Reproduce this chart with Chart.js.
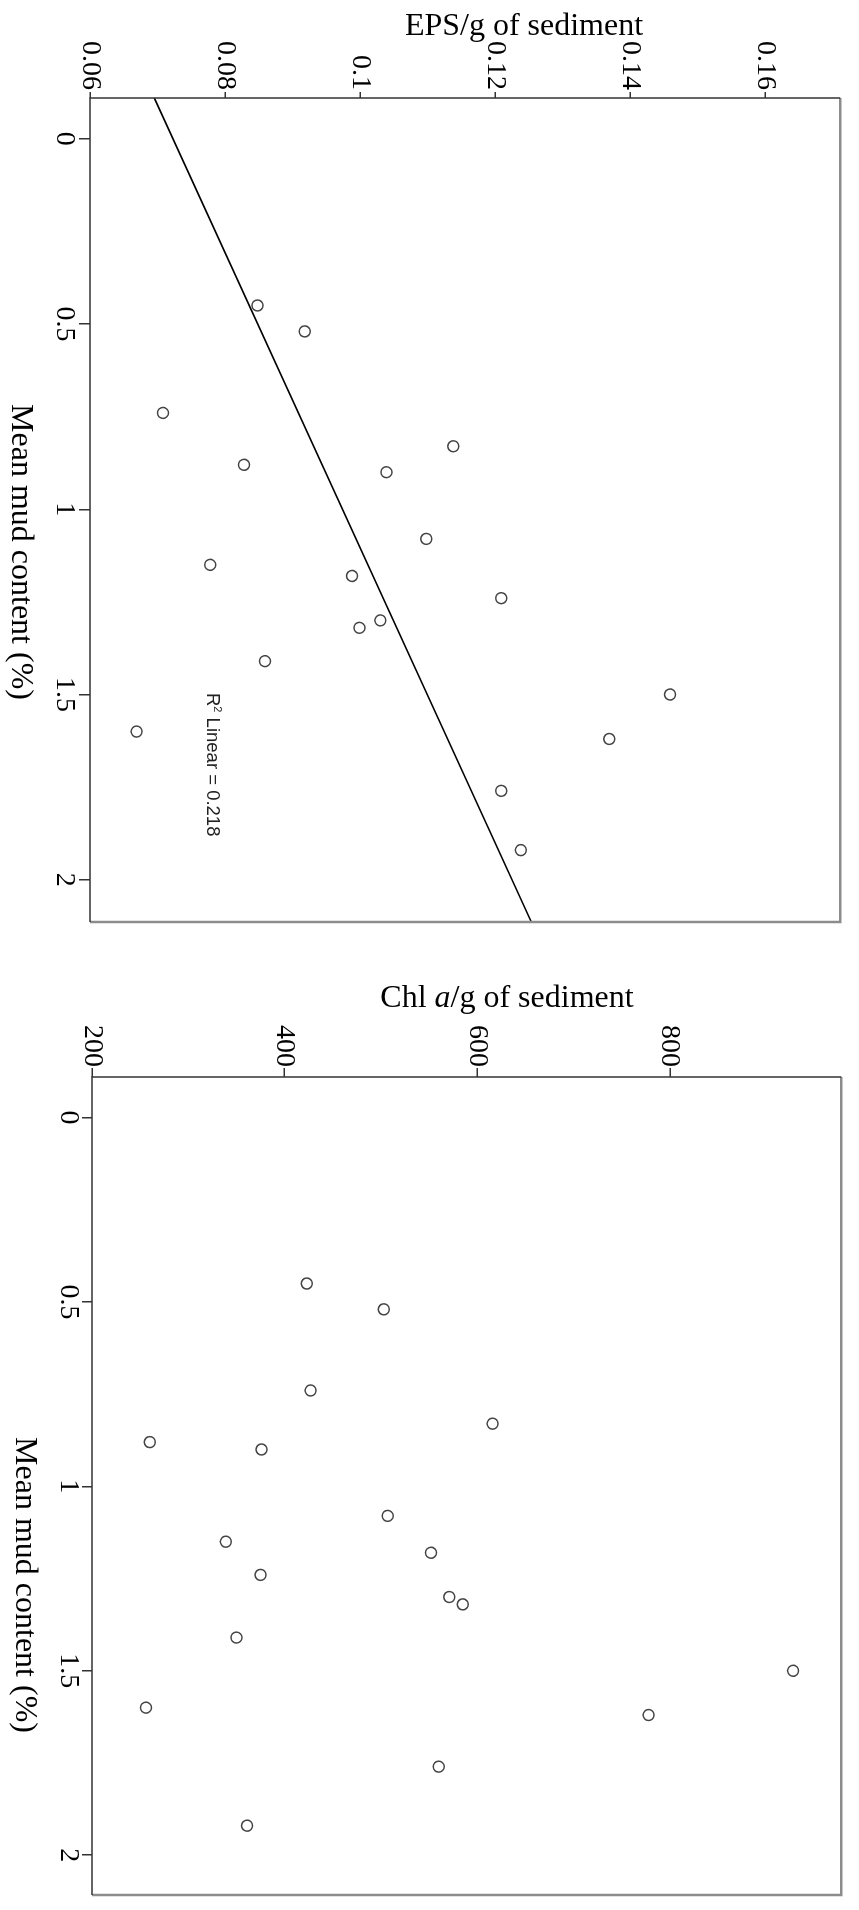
<!DOCTYPE html>
<html lang="en">
<head>
<meta charset="UTF-8">
<title>Mean mud content vs EPS and Chl a</title>
<script src="https://cdn.jsdelivr.net/npm/chart.js"></script>
<style>
    html, body { margin: 0; padding: 0; background: #fff; }
    body { width: 859px; height: 1910px; position: relative; overflow: hidden; }
    /* each plot is laid out landscape and turned a quarter clockwise */
    .panel { position: absolute; left: 0; width: 955px; height: 859px; transform-origin: 0 0; transform: translateX(859px) rotate(90deg); }
</style>
</head>
<body>

<div class="panel" style="top: 0;"><canvas id="epsChart" width="955" height="859"></canvas></div>
<div class="panel" style="top: 955px;"><canvas id="chlChart" width="955" height="859"></canvas></div>

<script>
    // one entry per station
    const mudContent = [0.45, 0.52, 0.74, 0.83, 0.88, 0.90, 1.08, 1.15, 1.18, 1.24, 1.30, 1.32, 1.41, 1.50, 1.60, 1.62, 1.76, 1.92];
    const epsPerGram = [0.0848, 0.0918, 0.0708, 0.1138, 0.0828, 0.1039, 0.1098, 0.0778, 0.0988, 0.1209, 0.1030, 0.0999, 0.0859, 0.1459, 0.0669, 0.1369, 0.1209, 0.1238];
    const chlPerGram = [423, 503, 427, 616, 260, 376, 507, 339, 552, 375, 571, 585, 350, 928, 256, 778, 560, 361];

    const mudTicks = [0, 0.5, 1, 1.5, 2];
    const epsTicks = [0.06, 0.08, 0.1, 0.12, 0.14, 0.16];
    const chlTicks = [200, 400, 600, 800];

    const epsR2Label = '0.218';

    const SERIF = '"Liberation Serif", "Times New Roman", serif';
    const SANS = '"Liberation Sans", Arial, sans-serif';

    // least squares line y = a + b x
    function linearFit(xs, ys) {
        const n = xs.length;
        const mx = xs.reduce((s, v) => s + v, 0) / n;
        const my = ys.reduce((s, v) => s + v, 0) / n;
        let sxy = 0, sxx = 0;
        for (let i = 0; i < n; i++) {
            sxy += (xs[i] - mx) * (ys[i] - my);
            sxx += (xs[i] - mx) * (xs[i] - mx);
        }
        const slope = sxy / sxx;
        return { slope: slope, intercept: my - slope * mx };
    }

    // text made of plain / italic pieces, centred on cx
    function drawRuns(ctx, runs, size, cx, baseline) {
        const fonts = runs.map(r => (r.italic ? 'italic ' : '') + size + 'px ' + SERIF);
        let total = 0;
        const widths = runs.map((r, i) => {
            ctx.font = fonts[i];
            const w = ctx.measureText(r.text).width;
            total += w;
            return w;
        });
        let x = cx - total / 2;
        ctx.textAlign = 'left';
        ctx.textBaseline = 'alphabetic';
        runs.forEach((r, i) => {
            ctx.font = fonts[i];
            ctx.fillText(r.text, x, baseline);
            x += widths[i];
        });
    }

    // box round the plot: dark on the axis sides, grey on the other two
    const framePlugin = {
        id: 'frame',
        afterDatasetsDraw(chart) {
            const { ctx, chartArea: a } = chart;
            ctx.save();
            ctx.strokeStyle = '#8c8c8c';
            ctx.lineWidth = 2.5;
            ctx.beginPath();
            ctx.moveTo(a.left, a.top);
            ctx.lineTo(a.right, a.top);
            ctx.lineTo(a.right, a.bottom);
            ctx.stroke();
            ctx.strokeStyle = '#333';
            ctx.lineWidth = 1.5;
            ctx.beginPath();
            ctx.moveTo(a.left, a.top);
            ctx.lineTo(a.left, a.bottom);
            ctx.lineTo(a.right, a.bottom);
            ctx.stroke();
            ctx.restore();
        }
    };

    // axis titles and the R² note
    const labelPlugin = {
        id: 'labels',
        afterDraw(chart, args, opts) {
            const ctx = chart.ctx;
            ctx.save();
            ctx.fillStyle = '#000';
            drawRuns(ctx, opts.xTitle, 32, opts.xTitlePos[0], opts.xTitlePos[1]);

            ctx.save();
            ctx.translate(opts.yTitlePos[0], opts.yTitlePos[1]);
            ctx.rotate(-Math.PI / 2);
            drawRuns(ctx, opts.yTitle, 32, 0, 0);
            ctx.restore();

            if (opts.note) {
                const [nx, ny] = opts.note.pos;
                ctx.fillStyle = '#222';
                ctx.textAlign = 'left';
                ctx.textBaseline = 'alphabetic';
                ctx.font = '18.5px ' + SANS;
                ctx.fillText('R', nx, ny);
                let x = nx + ctx.measureText('R').width;
                ctx.font = '11px ' + SANS;
                ctx.fillText('2', x, ny - 7);
                x += ctx.measureText('2').width;
                ctx.font = '18.5px ' + SANS;
                ctx.fillText(' Linear = ' + opts.note.text, x, ny);
            }
            ctx.restore();
        }
    };

    function axis(tickValues, range, fit, tickLength, padding) {
        return {
            type: 'linear',
            min: range[0],
            max: range[1],
            afterBuildTicks: scale => { scale.ticks = tickValues.map(v => ({ value: v })); },
            afterFit: fit,
            border: { display: false },
            grid: { drawOnChartArea: false, drawTicks: true, tickLength: tickLength, color: '#333', lineWidth: 1.5 },
            ticks: {
                autoSkip: false,
                maxRotation: 0,
                padding: padding,
                color: '#000',
                font: { family: SERIF, size: 28 },
                callback: v => String(v)
            }
        };
    }

    function pointsOf(ys) {
        return mudContent.map((m, i) => ({ x: m, y: ys[i] }));
    }

    const pointStyle = {
        pointRadius: 5.5,
        pointHoverRadius: 5.5,
        borderColor: '#444',
        borderWidth: 1.5,
        backgroundColor: 'rgba(0,0,0,0)',
        showLine: false
    };

    const baseOptions = {
        responsive: false,
        animation: false,
        devicePixelRatio: 1,
        events: []
    };

    // EPS against mud, with fitted line
    const mudRangeTop = [-0.110, 2.114];
    const fit = linearFit(mudContent, epsPerGram);
    const fitLine = mudRangeTop.map(m => ({ x: m, y: fit.intercept + fit.slope * m }));

    new Chart(document.getElementById('epsChart').getContext('2d'), {
        type: 'scatter',
        data: {
            datasets: [
                Object.assign({ label: 'EPS', data: pointsOf(epsPerGram) }, pointStyle),
                {
                    type: 'line',
                    label: 'Linear',
                    data: fitLine,
                    borderColor: '#000',
                    borderWidth: 1.6,
                    pointRadius: 0,
                    fill: false
                }
            ]
        },
        options: Object.assign({}, baseOptions, {
            layout: { autoPadding: false, padding: { left: 0, right: 33, top: 16, bottom: 0 } },
            scales: {
                x: axis(mudTicks, mudRangeTop, s => { s.height = 90; }, 11, -2),
                y: axis(epsTicks, [0.06, 0.1711], s => { s.width = 98; }, 6, 2)
            },
            plugins: {
                legend: { display: false },
                tooltip: { enabled: false },
                labels: {
                    xTitle: [{ text: 'Mean mud content (%)' }],
                    xTitlePos: [552, 847],
                    yTitle: [{ text: 'EPS/g of sediment' }],
                    yTitlePos: [35, 335],
                    note: { text: epsR2Label, pos: [693, 652] }
                }
            }
        }),
        plugins: [framePlugin, labelPlugin]
    });

    // Chl a against mud
    const mudRangeBottom = [-0.110, 2.108];

    new Chart(document.getElementById('chlChart').getContext('2d'), {
        type: 'scatter',
        data: {
            datasets: [
                Object.assign({ label: 'Chl a', data: pointsOf(chlPerGram) }, pointStyle)
            ]
        },
        options: Object.assign({}, baseOptions, {
            layout: { autoPadding: false, padding: { left: 0, right: 15, top: 12, bottom: 0 } },
            scales: {
                x: axis(mudTicks, mudRangeBottom, s => { s.height = 92; }, 10, -3),
                y: axis(chlTicks, [200, 978], s => { s.width = 122; }, 9, 1)
            },
            plugins: {
                legend: { display: false },
                tooltip: { enabled: false },
                labels: {
                    xTitle: [{ text: 'Mean mud content (%)' }],
                    xTitlePos: [630, 843],
                    yTitle: [{ text: 'Chl ' }, { text: 'a', italic: true }, { text: '/g of sediment' }],
                    yTitlePos: [52, 352]
                }
            }
        }),
        plugins: [framePlugin, labelPlugin]
    });
</script>

</body>
</html>
